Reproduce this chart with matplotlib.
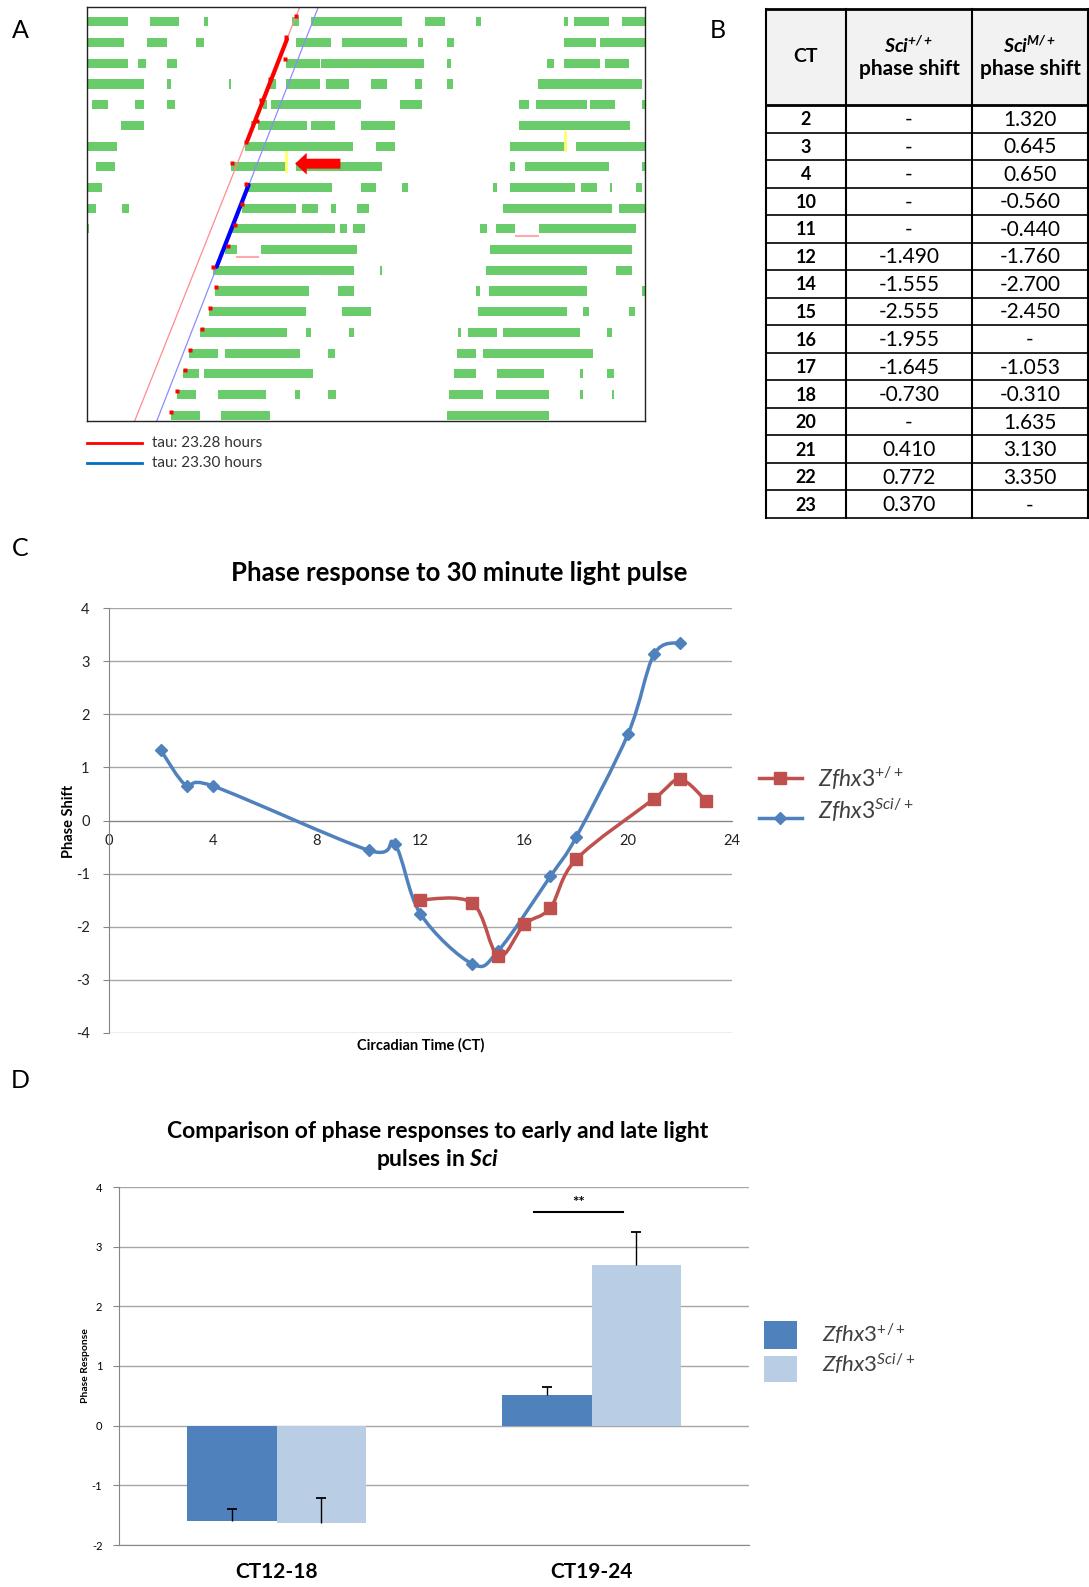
import numpy as np
import matplotlib
matplotlib.use("Agg")
import matplotlib.pyplot as plt
from matplotlib.path import Path
from matplotlib.patches import PathPatch, Rectangle, FancyArrow

plt.rcParams['font.family'] = ['Lato', 'DejaVu Sans']
plt.rcParams['mathtext.fontset'] = 'custom'
plt.rcParams['mathtext.it'] = 'Lato:italic'
plt.rcParams['mathtext.bf'] = 'Lato:bold:italic'
plt.rcParams['mathtext.rm'] = 'Lato'
plt.rcParams['axes.unicode_minus'] = False

nan = np.nan
# ---------------- data ----------------
# Panel A: actogram activity bouts (hours in a 48 h double-plotted window), one list per day row
acto_rows = [
    [(0, 3.5), (5.4, 7.9), (10.1, 10.4), (17.6, 18.2), (19.3, 27.1), (29.1, 30.8), (33.5, 33.9), (41.0, 41.4), (41.9, 44.9), (46.0, 48)],
    [(0, 3.2), (5.2, 6.9), (9.4, 10.1), (18.0, 21.0), (21.9, 27.5), (28.5, 28.9), (31.0, 31.6), (41.0, 43.8), (44.1, 48)],
    [(0, 3.5), (4.4, 5.1), (6.9, 7.7), (17.1, 20.0), (20.1, 29.0), (31.0, 31.3), (39.6, 40.2), (41.0, 44.1), (44.6, 46.6)],
    [(0, 4.9), (6.9, 7.2), (12.2, 12.4), (15.7, 16.3), (17.1, 20.0), (20.6, 22.5), (24.4, 25.8), (28.2, 28.8), (31.0, 31.5), (38.8, 47.7)],
    [(0.4, 1.8), (4.1, 4.9), (6.9, 7.6), (15.1, 15.5), (15.8, 23.6), (26.9, 28.8), (37.2, 38.0), (38.6, 43.0), (43.3, 45.4), (47.7, 48)],
    [(2.9, 4.9), (14.1, 14.4), (14.7, 18.9), (19.3, 21.3), (23.6, 26.5), (37.2, 46.7)],
    [(0, 2.6), (13.6, 22.9), (24.9, 26.5), (36.4, 41.3), (42.1, 48)],
    [(0.8, 2.4), (12.4, 17.2), (18.0, 25.4), (36.4, 36.8), (37.7, 44.9), (47.7, 48)],
    [(0, 1.3), (13.6, 21.1), (23.6, 24.9), (27.1, 27.6), (34.9, 35.3), (36.4, 42.0), (42.5, 43.9), (45.0, 45.2), (47.2, 47.7)],
    [(0, 0.8), (3.0, 3.6), (13.3, 18.0), (18.5, 19.9), (21.0, 21.4), (23.2, 24.3), (35.8, 45.2), (45.8, 48)],
    [(0, 0.2), (12.5, 21.3), (21.8, 22.4), (22.9, 23.9), (33.8, 34.4), (35.2, 36.8), (38.9, 47.2)],
    [(11.9, 12.9), (15.0, 23.2), (34.7, 46.9)],
    [(10.8, 23.0), (25.2, 25.4), (34.3, 43.0), (45.5, 46.9)],
    [(11.0, 19.1), (21.6, 23.0), (33.5, 33.8), (34.6, 43.0), (47.7, 48)],
    [(10.5, 18.8), (21.9, 24.4), (33.6, 41.3), (42.7, 43.2), (46.6, 47.1)],
    [(9.7, 17.2), (18.8, 19.3), (22.5, 23.0), (31.9, 32.2), (32.8, 35.3), (35.8, 42.4), (44.7, 45.2)],
    [(8.8, 11.3), (11.9, 18.3), (20.7, 21.3), (31.8, 33.5), (34.1, 43.5)],
    [(8.3, 9.6), (10.1, 19.4), (31.6, 33.5), (35.3, 39.3), (42.4, 42.7), (44.7, 45.3)],
    [(7.7, 9.4), (11.3, 15.4), (17.9, 18.3), (20.7, 21.4), (31.1, 34.1), (35.2, 39.7), (42.4, 42.7), (45.2, 45.3)],
    [(7.2, 9.7), (11.5, 15.7), (31.0, 39.7)],
]
onset_x = [18.0, 17.15, 17.0, 15.7, 15.0, 14.6, 13.7, 12.5, 13.7, 13.3, 12.7, 12.1, 10.8, 11.1, 10.6, 9.9, 8.9, 8.4, 7.7, 7.25]
onset_row = [0.43, 1.44, 2.52, 3.48, 4.49, 5.49, 6.53, 7.52, 8.53, 9.53, 10.54, 11.55, 12.54, 13.54, 14.55, 15.56, 16.55, 17.56, 18.56, 19.57]
red_fit_x = [4.1, 18.3]        # tau 23.28 h regression line (bottom, top)
blue_fit_x = [6.0, 19.9]       # tau 23.30 h regression line (bottom, top)
red_seg_x = [17.2, 13.8]
red_seg_row = [1.56, 6.45]
blue_seg_x = [13.9, 11.15]
blue_seg_row = [8.6, 12.55]
tau_labels = ["tau: 23.28 hours", "tau: 23.30 hours"]

# Panel B / C: phase shifts
ct = [2, 3, 4, 10, 11, 12, 14, 15, 16, 17, 18, 20, 21, 22, 23]
wt_shift = [nan, nan, nan, nan, nan, -1.490, -1.555, -2.555, -1.955, -1.645, -0.730, nan, 0.410, 0.772, 0.370]
mut_shift = [1.320, 0.645, 0.650, -0.560, -0.440, -1.760, -2.700, -2.450, nan, -1.053, -0.310, 1.635, 3.130, 3.350, nan]

# Panel D: grouped means
groups = ["CT12-18", "CT19-24"]
wt_mean = [-1.60, 0.52]
wt_err = [0.20, 0.13]
mut_mean = [-1.63, 2.70]
mut_err = [0.41, 0.55]

lbl_wt = r"$\mathit{Zfhx3}^{\mathit{+/+}}$"
lbl_mut = r"$\mathit{Zfhx3}^{\mathit{Sci/+}}$"

# ---------------- figure ----------------
W, H = 1089, 1587
fig = plt.figure(figsize=(W / 100, H / 100), dpi=100)


def px_axes(x0, y0, x1, y1):
    return fig.add_axes([x0 / W, 1 - y1 / H, (x1 - x0) / W, (y1 - y0) / H])


RED = '#c0504d'
BLUE = '#4f81bd'
LBLUE = '#b9cde5'
GRID = '#a6a6a6'
ACT = '#6acb6a'

# ---- Panel A: actogram ----
axA = px_axes(87, 7, 645, 421)
nrows = len(acto_rows)
for r, bouts in enumerate(acto_rows):
    axA.broken_barh([(a, b - a) for a, b in bouts], (r + 0.50, 0.44), facecolors=ACT, edgecolors='none')
axA.plot(red_fit_x, [nrows, 0], color='#ff8c8c', lw=0.9)
axA.plot(blue_fit_x, [nrows, 0], color='#8c8cff', lw=0.9)
axA.plot(red_seg_x, red_seg_row, color='#ff0000', lw=3, solid_capstyle='round')
axA.plot(blue_seg_x, blue_seg_row, color='#0000ff', lw=3, solid_capstyle='round')
axA.plot(onset_x, onset_row, 's', color='#ff0000', ms=2.5, mec='none')
axA.plot([17.15, 17.15], [7.0, 7.9], color='#ffff66', lw=2)
axA.plot([41.1, 41.1], [6.05, 6.9], color='#ffff66', lw=2)
axA.plot([12.9, 14.7], [12.06, 12.06], color='#ffaaaa', lw=1.5)
axA.plot([36.9, 38.8], [11.05, 11.05], color='#ffaaaa', lw=1.5)
axA.add_patch(FancyArrow(21.8, 7.57, -2.9, 0, width=0.48, head_width=1.05, head_length=1.0,
                         length_includes_head=False, color='#ff0000', lw=0))
axA.set_xlim(0, 48)
axA.set_ylim(nrows, 0)
axA.set_xticks([])
axA.set_yticks([])
for s in axA.spines.values():
    s.set_color('#222222')
    s.set_linewidth(1)

# ---- Panel C: phase response curve ----
axC = px_axes(109, 608, 732, 1033)
axC.set_xlim(0, 24)
axC.set_ylim(-4, 4)
axC.set_yticks(range(-4, 5))
axC.set_xticks(range(0, 25, 4))
axC.yaxis.grid(True, color=GRID, lw=1)
axC.set_axisbelow(True)
for sp in ['top', 'right']:
    axC.spines[sp].set_visible(False)
axC.spines['left'].set_color('#868686')
axC.spines['bottom'].set_position(('data', 0))
axC.spines['bottom'].set_color('#868686')
axC.tick_params(axis='x', length=0, pad=10, labelsize=10.5, colors='#222222')
axC.tick_params(axis='y', length=4, color='#868686', labelsize=10.5, pad=10, colors='#222222')


def smooth_path(xs, ys):
    P = np.column_stack([xs, ys]).astype(float)
    n = len(P)
    verts = [P[0]]
    codes = [Path.MOVETO]
    for i in range(n - 1):
        p0 = P[i - 1] if i > 0 else P[i]
        p1, p2 = P[i], P[i + 1]
        p3 = P[i + 2] if i + 2 < n else P[i + 1]
        verts += [p1 + (p2 - p0) / 6, p2 - (p3 - p1) / 6, p2]
        codes += [Path.CURVE4] * 3
    return Path(verts, codes)


ct_arr = np.array(ct, float)
for vals, col, mk, ms in [(mut_shift, BLUE, 'D', 6.5), (wt_shift, RED, 's', 9)]:
    v = np.array(vals, float)
    ok = ~np.isnan(v)
    axC.add_patch(PathPatch(smooth_path(ct_arr[ok], v[ok]), fill=False, edgecolor=col, lw=2.5, zorder=3))
    axC.plot(ct_arr[ok], v[ok], linestyle='none', marker=mk, color=col, ms=ms, zorder=4)

# ---- Panel D: bar chart ----
axD = px_axes(119, 1187, 749, 1545)
xg = np.arange(len(groups))
bw = 0.283
axD.bar(xg - bw / 2, wt_mean, bw, color=BLUE, zorder=3)
axD.bar(xg + bw / 2, mut_mean, bw, color=LBLUE, zorder=3)
for xs, m, e in [(xg - bw / 2, wt_mean, wt_err), (xg + bw / 2, mut_mean, mut_err)]:
    tops = np.array(m) + np.array(e)
    axD.vlines(xs, m, tops, color='black', lw=1, zorder=4)
    axD.plot(xs, tops, linestyle='none', marker='_', ms=7, mew=1.3, color='black', zorder=4)
axD.plot([0.818, 1.101], [3.575, 3.575], color='black', lw=1.5, zorder=4)
axD.text(0.96, 3.74, "**", ha='center', va='center', fontsize=11, fontweight='bold')
axD.set_xlim(-0.5, 1.5)
axD.set_ylim(-2, 4)
axD.set_yticks(range(-2, 5))
axD.set_xticks(xg)
axD.set_xticklabels(groups, fontsize=15, fontweight='bold')
axD.yaxis.grid(True, color=GRID, lw=1)
axD.set_axisbelow(True)
for sp in ['top', 'right']:
    axD.spines[sp].set_visible(False)
axD.spines['left'].set_color('#868686')
axD.spines['bottom'].set_color('#868686')
axD.tick_params(axis='x', length=0, pad=12)
axD.tick_params(axis='y', length=4, color='#868686', labelsize=8, pad=8)

# ---- overlay canvas in pixel coordinates ----
cv = fig.add_axes([0, 0, 1, 1])
cv.set_xlim(0, W)
cv.set_ylim(H, 0)
cv.axis('off')
cv.patch.set_visible(False)

# panel letters
for letter, (x, y) in zip("ABCD", [(20, 30), (718, 30), (20, 549), (20, 1081)]):
    cv.text(x, y, letter, fontsize=18, ha='center', va='center')

# actogram legend
cv.plot([87, 142], [443, 443], color='#ff0000', lw=2)
cv.plot([87, 142], [463, 463], color='#0070c0', lw=2)
cv.text(152, 443, tau_labels[0], fontsize=11, va='center', color='#333333')
cv.text(152, 463, tau_labels[1], fontsize=11, va='center', color='#333333')

# table B
cols = [766, 846, 972, 1088]
top, hdr = 9, 105
row_h = (518 - hdr) / len(ct)
cv.add_patch(Rectangle((cols[0], top), cols[-1] - cols[0], hdr - top, facecolor='#f2f2f2', edgecolor='none'))
for xc in cols:
    cv.plot([xc, xc], [top, 518], color='black', lw=1.5)
cv.plot([cols[0], cols[-1]], [top, top], color='black', lw=2)
cv.plot([cols[0], cols[-1]], [hdr, hdr], color='black', lw=2)
for i in range(1, len(ct) + 1):
    cv.plot([cols[0], cols[-1]], [hdr + i * row_h] * 2, color='black', lw=1.2)
cc = [(cols[i] + cols[i + 1]) / 2 for i in range(3)]
cv.text(cc[0], (top + hdr) / 2, "CT", fontsize=14, fontweight='bold', ha='center', va='center')
cv.text(cc[1], 45, r"$\mathbf{Sci^{+/+}}$", fontsize=14, ha='center', va='center')
cv.text(cc[2], 45, r"$\mathbf{Sci^{M/+}}$", fontsize=14, ha='center', va='center')
cv.text(cc[1], 69, "phase shift", fontsize=15, fontweight='bold', ha='center', va='center')
cv.text(cc[2], 69, "phase shift", fontsize=15, fontweight='bold', ha='center', va='center')


def fmt(v):
    return "-" if np.isnan(v) else f"{v:.3f}"


for i, (c, a, b) in enumerate(zip(ct, wt_shift, mut_shift)):
    yc = hdr + (i + 0.5) * row_h + 1
    cv.text(cc[0], yc, str(c), fontsize=13, fontweight='bold', ha='center', va='center')
    cv.text(cc[1], yc, fmt(a), fontsize=15, ha='center', va='center')
    cv.text(cc[2], yc, fmt(b), fontsize=15, ha='center', va='center')

# panel C texts
cv.text(459, 573, "Phase response to 30 minute light pulse", fontsize=18.5, fontweight='bold', ha='center', va='center')
cv.text(69, 821, "Phase Shift", fontsize=10.5, fontweight='bold', rotation=90, ha='center', va='center')
cv.text(421, 1045, "Circadian Time (CT)", fontsize=10.5, fontweight='bold', ha='center', va='center')
cv.plot([759, 802], [778, 778], color=RED, lw=2.5)
cv.plot([780], [778], 's', color=RED, ms=9)
cv.plot([759, 802], [818, 818], color=BLUE, lw=2.5)
cv.plot([780], [818], 'D', color=BLUE, ms=6.5)
cv.text(818, 778, lbl_wt, fontsize=16.5, va='center', color='#404040')
cv.text(818, 810, lbl_mut, fontsize=16.5, va='center', color='#404040')

# panel D texts
cv.text(438, 1131, "Comparison of phase responses to early and late light", fontsize=16.5,
        fontweight='bold', ha='center', va='center')
cv.text(438, 1159, r"pulses in $\mathbf{Sci}$", fontsize=16.5, fontweight='bold', ha='center', va='center')
cv.text(86, 1366, "Phase Response", fontsize=7.5, fontweight='bold', rotation=90, ha='center', va='center')
cv.add_patch(Rectangle((764, 1321), 33, 28, facecolor=BLUE, edgecolor='none'))
cv.add_patch(Rectangle((764, 1356), 33, 26, facecolor=LBLUE, edgecolor='none'))
cv.text(822, 1334, lbl_wt, fontsize=16, va='center', color='#404040')
cv.text(822, 1364, lbl_mut, fontsize=16, va='center', color='#404040')

fig.savefig("out.png", dpi=100)
